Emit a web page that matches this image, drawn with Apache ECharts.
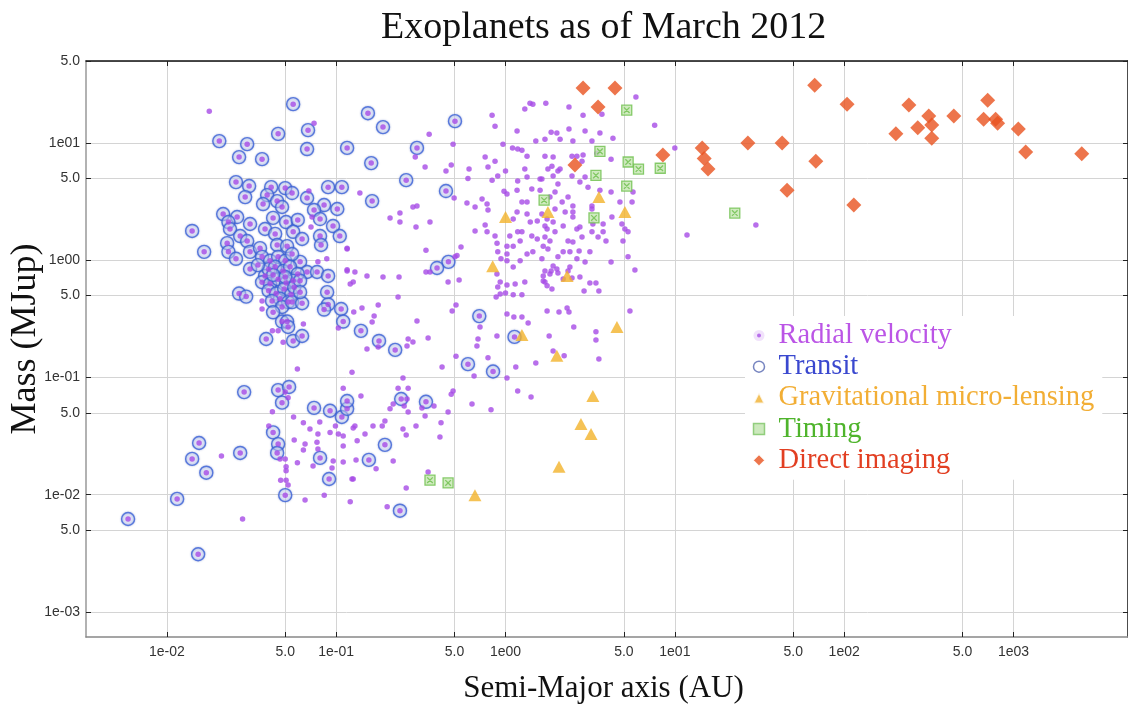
<!DOCTYPE html>
<html>
<head>
<meta charset="utf-8">
<script src="https://cdn.jsdelivr.net/npm/echarts@6.0.0/dist/echarts.min.js"></script>
<style>
html,body{margin:0;padding:0;background:#fff;}
#chart{width:1128px;height:704px;}
</style>
</head>
<body>
<div id="chart"></div>
<script>
// ---- tick values and labels ----
const xTickValues = [0.01, 0.05, 0.1, 0.5, 1, 5, 10, 50, 100, 500, 1000];
const xTickLabels = ['1e-02', '5.0', '1e-01', '5.0', '1e00', '5.0', '1e01', '5.0', '1e02', '5.0', '1e03'];
const yTickValues = [0.001, 0.005, 0.01, 0.05, 0.1, 0.5, 1, 5, 10, 50];
const yTickLabels = ['1e-03', '5.0', '1e-02', '5.0', '1e-01', '5.0', '1e00', '5.0', '1e01', '5.0'];

// ---- series data: [semi-major axis (AU), mass (MJup)] ----
const transit = [
[0.0557,21.5],[0.0454,12.0],[0.0682,12.9],[0.0204,10.4],[0.0298,9.8],[0.0673,8.9],[0.116,9.1],[0.0267,7.6],[0.0365,7.3],[0.0256,4.65],[0.0306,4.3],[0.050,4.13],[0.0413,4.21],[0.0549,3.75],[0.0896,4.21],[0.108,4.21],[0.0391,3.6],[0.029,3.46],[0.0448,3.2],[0.0673,3.4],[0.037,3.02],[0.0848,2.96],[0.074,2.69],[0.1015,2.74],[0.0479,2.85],[0.0215,2.48],[0.026,2.34],[0.0424,2.3],[0.0506,2.12],[0.0593,2.21],[0.0803,2.25],[0.0231,2.12],[0.0236,1.85],[0.031,2.04],[0.038,1.85],[0.0436,1.68],[0.0557,1.75],[0.0629,1.52],[0.0803,1.61],[0.0958,1.96],[0.105,1.61],[0.0141,1.78],[0.0271,1.61],[0.0298,1.46],[0.0227,1.40],[0.0231,1.18],[0.0256,1.03],[0.0166,1.18],[0.031,1.18],[0.0355,1.27],[0.0448,1.35],[0.0513,1.32],[0.0612,0.97],[0.0673,0.795],[0.0771,0.795],[0.0814,1.35],[0.0896,0.735],[0.038,0.735],[0.031,0.843],
[0.0365,1.07],[0.0407,0.99],[0.0454,1.07],[0.050,0.99],[0.0549,1.13],[0.0399,0.84],[0.0436,0.88],[0.0486,0.81],[0.0534,0.88],[0.0593,0.765],[0.0365,0.65],[0.0407,0.63],[0.0454,0.69],[0.0506,0.64],[0.0557,0.67],[0.0399,0.55],[0.0442,0.52],[0.0493,0.57],[0.0542,0.51],[0.0466,0.47],[0.052,0.44],[0.0418,0.45],[0.0479,0.40],[0.0565,0.59],[0.0345,0.91],[0.0612,0.67],[0.050,0.72],[0.0424,0.75],
[0.0267,0.52],[0.0294,0.49],[0.0424,0.36],[0.0549,0.44],[0.0629,0.43],[0.0612,0.535],[0.0884,0.535],[0.0896,0.42],[0.0848,0.38],[0.107,0.384],[0.110,0.30],[0.0479,0.30],[0.0513,0.30],[0.052,0.27],[0.0386,0.213],[0.0557,0.205],[0.0629,0.226],[0.0286,0.075],[0.0454,0.078],[0.0527,0.083],[0.0479,0.061],[0.074,0.055],[0.092,0.052],[0.108,0.046],[0.116,0.054],[0.116,0.063],[0.0424,0.034],[0.0454,0.027],[0.0448,0.0227],[0.0155,0.0276],[0.0271,0.0227],[0.0141,0.0202],[0.0171,0.0154],[0.0803,0.0206],
[0.0115,0.0092],[0.0059,0.0062],[0.0153,0.0031],[0.050,0.0099],[0.0908,0.0136],[0.238,0.0073],
[0.154,18.0],[0.189,13.7],[0.503,15.4],[0.161,6.75],[0.30,9.1],[0.259,4.83],[0.445,3.9],[0.163,3.2],[0.46,0.97],[0.394,0.86],
[0.14,0.25],[0.179,0.205],[0.223,0.172],[0.242,0.0655],[0.339,0.062],[0.194,0.0266],[0.156,0.0198],[0.70,0.334],[0.60,0.13],[0.844,0.1125],[1.13,0.222]
];

const radialVelocity = [
[0.0178,18.7],[0.074,14.8],[0.069,3.9],[0.071,1.92],[0.072,2.34],[0.078,0.97],[0.088,1.03],[0.116,1.25],[0.116,0.81],
[0.0365,0.45],[0.0365,0.384],[0.0454,0.25],[0.0486,0.20],[0.064,0.286],[0.042,0.25],[0.103,0.265],[0.059,0.118],[0.050,0.075],[0.052,0.067],[0.11,0.081],
[0.042,0.051],[0.056,0.046],[0.064,0.041],[0.070,0.0363],[0.080,0.0417],[0.078,0.033],[0.092,0.034],[0.099,0.0385],[0.103,0.033],[0.11,0.0317],[0.040,0.0385],[0.0565,0.0293],[0.0655,0.027],[0.077,0.028],[0.078,0.0245],[0.064,0.024],[0.096,0.0194],[0.11,0.019],[0.11,0.026],[0.0945,0.0169],[0.059,0.0187],[0.073,0.0176],[0.0506,0.0173],[0.050,0.0202],[0.0466,0.0202],[0.021,0.0214],
[0.028,0.0062],[0.047,0.0133],[0.0506,0.0133],[0.052,0.0121],[0.0506,0.016],[0.0655,0.009],[0.085,0.0099],[0.124,0.0136],[0.121,0.0087],[0.20,0.0079],[0.172,0.0166],
[0.354,11.9],[0.49,9.8],[0.293,7.6],[0.335,6.24],[0.445,5.77],[0.478,6.49],[0.138,3.75],[0.284,2.85],[0.30,2.91],[0.208,2.3],[0.238,2.53],[0.238,2.12],[0.296,1.92],[0.358,2.12],[0.497,3.4],[0.116,1.27],[0.339,1.22],[0.546,1.3],[0.517,1.1],[0.503,1.07],[0.116,0.83],[0.129,0.795],[0.152,0.735],[0.189,0.72],[0.235,0.72],[0.339,0.795],[0.358,0.795],[0.458,0.653],[0.532,0.68],[0.126,0.653],
[0.833,17.3],[0.867,13.9],[0.758,7.6],[0.867,7.0],[0.609,6.0],[0.60,5.0],[0.788,6.24],[1.0,5.77],[0.966,9.8],[1.1,9.07],[1.18,8.9],[1.25,8.7],[1.17,12.7],[1.3,19.5],[1.395,21.9],[1.45,21.5],[1.73,21.9],[1.86,12.4],[1.51,10.4],[1.71,10.8],[2.01,12.2],[1.91,7.6],[2.04,5.77],[1.34,7.74],[1.3,6.0],[1.6,4.93],[1.34,5.13],[1.18,4.74],[0.90,5.23],[0.833,4.83],
[0.592,3.08],[0.661,2.85],[0.778,3.02],[0.788,2.69],[0.727,3.33],[0.98,3.89],[1.02,3.67],[1.17,3.97],[1.43,4.05],[1.6,3.97],[1.83,3.46],[0.758,2.0],[0.778,1.75],[0.867,1.61],[0.891,1.4],[0.661,1.78],[1.17,2.58],[1.11,2.25],[1.25,3.14],[1.34,3.14],[1.34,2.48],[1.4,2.12],[1.54,2.16],[1.64,2.48],[1.76,2.25],[1.71,1.96],[1.96,1.75],[1.06,1.61],[1.18,1.75],[1.25,1.75],[1.43,1.61],[1.22,1.46],[1.54,1.52],[1.67,1.32],[1.78,1.25],[1.02,1.32],[1.11,1.32],[0.94,1.03],[1.02,1.13],[0.90,1.18],[1.34,1.13],[1.45,1.18],[1.22,0.99],[1.64,1.03],[1.86,0.81],[1.76,0.605],[1.14,0.628],[1.3,0.653],[0.89,0.765],[0.93,0.653],[1.02,0.99],[1.11,0.877],[1.96,3.82],[1.96,2.74],
[0.121,0.628],[0.232,0.487],[0.177,0.416],[0.142,0.392],[0.127,0.362],[0.1675,0.334],[0.163,0.298],[0.30,0.304],[0.266,0.213],[0.284,0.201],[0.262,0.186],[0.152,0.175],[0.177,0.182],[0.349,0.217],[0.124,0.111],[0.51,0.416],[0.484,0.37],[0.51,0.152],[0.422,0.123],[0.248,0.099],[0.232,0.081],[0.266,0.081],[0.14,0.0695],[0.262,0.0655],[0.252,0.0572],[0.217,0.0595],[0.208,0.054],[0.266,0.0507],[0.321,0.055],[0.335,0.047],[0.378,0.057],[0.458,0.0507],[0.49,0.0766],[0.478,0.072],[0.416,0.041],[0.41,0.031],[0.296,0.0385],[0.248,0.0363],[0.259,0.0323],[0.194,0.0425],[0.165,0.0385],[0.187,0.0385],[0.126,0.037],[0.129,0.0385],[0.148,0.033],[0.133,0.0288],[0.217,0.0194],[0.131,0.0198],[0.126,0.0136],[0.349,0.0156],[0.259,0.0114],
[0.90,0.593],[1.02,0.616],[0.93,0.516],[1.0,0.526],[1.11,0.507],[1.25,0.507],[0.88,0.487],[1.67,0.666],[1.88,0.569],[1.76,0.37],[2.07,0.362],[1.02,0.348],[1.12,0.328],[1.25,0.328],[1.36,0.292],[0.707,0.27],[0.688,0.213],[0.678,0.186],[0.788,0.147],[0.89,0.226],[0.652,0.103],[1.15,0.123],[1.02,0.099],[1.51,0.133],[1.81,0.226],[1.91,0.168],[1.18,0.0766],[1.415,0.068],[0.634,0.0595],[0.821,0.053],
[2.37,20.3],[2.87,17.3],[3.71,17.6],[5.89,24.7],[7.6,14.2],[2.95,12.7],[2.37,13.2],[2.1,10.8],[2.5,10.4],[3.24,10.4],[3.61,12.2],[4.31,11.0],[10.0,9.07],[1.71,7.74],[1.88,6.36],[2.47,7.74],[2.64,7.74],[2.87,7.9],[2.83,7.0],[2.1,6.0],[1.91,5.23],[1.78,6.0],[1.64,4.93],[2.47,5.23],[2.95,5.13],[4.2,7.3],[3.47,8.2],[2.75,4.65],[2.04,4.47],[2.34,3.46],[2.16,3.14],[2.5,2.91],[3.07,4.21],[3.61,3.97],[4.2,3.82],[5.66,3.82],[4.74,3.14],[5.59,3.14],[3.24,2.91],[3.24,2.74],[2.25,2.58],[2.5,2.58],[2.5,2.34],[1.91,2.12],[1.76,1.85],[2.19,1.96],[2.64,1.85],[2.75,1.92],[2.83,1.58],[3.77,2.04],[3.28,2.04],[4.25,2.34],[4.87,2.04],[5.07,1.85],[5.29,1.75],[3.24,1.75],[3.52,1.58],[3.77,1.75],[4.94,1.46],[3.92,1.46],[2.34,1.46],[2.5,1.43],[1.71,1.58],[1.83,1.46],[2.19,1.18],[2.4,1.18],[2.72,1.2],[3.15,1.18],[2.04,1.07],[2.64,1.03],[2.95,0.967],[5.29,1.07],[4.2,0.967],[1.91,0.895],[2.01,0.843],[2.4,0.877],[2.34,0.81],[1.71,0.81],[1.67,0.735],[5.81,0.827],[11.8,1.64],[2.75,0.72],
[1.83,0.765],[2.04,0.78],[1.71,0.653],[2.19,0.693],[2.47,0.707],[3.15,0.64],[3.42,0.64],[2.91,0.547],[3.56,0.547],[2.31,0.392],[2.37,0.362],[5.43,0.37],[2.53,0.27],[3.42,0.245],[3.42,0.209],[2.22,0.153],[3.56,0.144],
[30.1,2.0]
];

const microLensing = [
[1.0,2.34],[1.78,2.58],[0.84,0.89],[3.56,3.46],[5.07,2.58],[2.31,0.735],[1.25,0.23],[2.01,0.153],[4.55,0.27],[3.28,0.0695],[2.79,0.040],[3.2,0.033],[2.07,0.0173],[0.66,0.0099]
];

const timing = [
[5.2,19.1],[3.61,8.5],[5.3,6.9],[6.1,6.0],[8.2,6.1],[3.42,5.3],[5.2,4.3],[1.69,3.26],[3.33,2.3],[22.6,2.53],[0.358,0.0133],[0.458,0.0126]
];

const directImaging = [
[2.87,29.5],[4.43,29.5],[3.52,20.3],[2.57,6.5],[8.5,7.9],[14.5,9.1],[14.9,7.4],[15.7,6.0],[67,31.2],[104,21.5],[27,10],[43,10],[68,7.0],[46,3.97],[114,2.96],[241,21.1],[202,12.0],[272,13.5],[316,17.0],[329,14.3],[329,11.0],[444,17.0],[704,23.2],[666,16.0],[784,16.0],[806,14.8],[1068,13.2],[1180,8.4],[2530,8.1]
];

const seriesNames = ['Radial velocity', 'Transit', 'Gravitational micro-lensing', 'Timing', 'Direct imaging'];

function tickFormatter(values, labels) {
  return function (v) {
    for (let i = 0; i < values.length; i++) {
      if (Math.abs(Math.log10(v) - Math.log10(values[i])) < 1e-3) return labels[i];
    }
    return '';
  };
}

const chart = echarts.init(document.getElementById('chart'), null, {renderer: 'canvas'});

const labelFont = {fontFamily: 'Liberation Sans', fontSize: 14, color: '#333'};
const gridLine = {show: true, lineStyle: {color: '#d4d4d4', width: 1}};
const tickStyle = {show: true, inside: true, length: 5, lineStyle: {color: '#222', width: 1}};

const xBase = {type: 'log', logBase: 10, min: 0.00333, max: 4745};
const yBase = {type: 'log', logBase: 10, min: 0.00061, max: 50.2};

const timingSymbol = 'path://M0,0L10,0L10,10L0,10Z M2.2,2.2L7.8,7.8 M7.8,2.2L2.2,7.8';

const option = {
  backgroundColor: '#fff',
  animation: false,
  title: {
    text: 'Exoplanets as of March 2012',
    left: 376, top: 4,
    textStyle: {fontFamily: 'Liberation Serif', fontSize: 38, fontWeight: 'normal', color: '#111'}
  },
  grid: {left: 86, right: 0, top: 61, bottom: 67, containLabel: false, outerBoundsMode: 'none'},
  xAxis: [
    Object.assign({}, xBase, {
      position: 'bottom',
      name: 'Semi-Major axis (AU)', nameLocation: 'middle', nameGap: 36, nameMoveOverlap: false,
      nameTextStyle: {fontFamily: 'Liberation Serif', fontSize: 31, color: '#111', padding: [0, 7, 0, 0]},
      axisLine: {show: true, lineStyle: {color: '#888', width: 1.5}},
      axisTick: Object.assign({customValues: xTickValues}, tickStyle),
      axisLabel: Object.assign({customValues: xTickValues, margin: 8, formatter: tickFormatter(xTickValues, xTickLabels)}, labelFont),
      splitLine: gridLine
    }),
    Object.assign({}, xBase, {
      position: 'top',
      axisLine: {show: true, lineStyle: {color: '#111', width: 1.5}},
      axisTick: Object.assign({customValues: xTickValues}, tickStyle),
      axisLabel: {show: false},
      splitLine: {show: false}
    })
  ],
  yAxis: [
    Object.assign({}, yBase, {
      position: 'left',
      name: 'Mass (MJup)', nameLocation: 'middle', nameGap: 42, nameMoveOverlap: false,
      nameTextStyle: {fontFamily: 'Liberation Serif', fontSize: 36, color: '#111', padding: [0, 0, 0, 20]},
      axisLine: {show: true, lineStyle: {color: '#999', width: 1.5}},
      axisTick: Object.assign({customValues: yTickValues}, tickStyle),
      axisLabel: Object.assign({customValues: yTickValues, margin: 6, formatter: tickFormatter(yTickValues, yTickLabels)}, labelFont),
      splitLine: gridLine
    }),
    Object.assign({}, yBase, {
      position: 'right',
      axisLine: {show: true, lineStyle: {color: '#111', width: 1.5}},
      axisTick: Object.assign({customValues: yTickValues}, tickStyle),
      axisLabel: {show: false},
      splitLine: {show: false}
    })
  ],
  legend: {
    orient: 'vertical',
    left: 745, top: 316,
    itemWidth: 11, itemHeight: 11, itemGap: 2.2,
    padding: [5, 8, 5, 5],
    backgroundColor: '#fff',
    selectedMode: false,
    textStyle: {fontFamily: 'Liberation Serif', fontSize: 28.5, padding: [0, 0, 0, 9]},
    data: [
      {name: seriesNames[0], icon: 'circle', itemStyle: {color: '#a64be6', borderColor: '#fff', borderWidth: 7}, textStyle: {color: '#bb55e6'}},
      {name: seriesNames[1], icon: 'circle', itemStyle: {color: '#fff', borderColor: '#5566b0', borderWidth: 1.5}, textStyle: {color: '#3a48cf'}},
      {name: seriesNames[2], icon: 'triangle', itemStyle: {color: '#f0b030', borderColor: '#fff', borderWidth: 2}, textStyle: {color: '#f2ae35'}},
      {name: seriesNames[3], icon: 'rect', itemStyle: {color: '#bfe3ad', borderColor: '#7cc464', borderWidth: 1.5}, textStyle: {color: '#4fb42c'}},
      {name: seriesNames[4], icon: 'diamond', itemStyle: {color: '#e8531f', borderColor: '#fff', borderWidth: 1}, textStyle: {color: '#e23f22'}}
    ]
  },
  series: [
    {
      name: seriesNames[1], type: 'scatter', data: transit,
      symbol: 'circle', symbolSize: 13,
      itemStyle: {color: 'rgba(235,240,255,0.55)', borderColor: '#3b62d8', borderWidth: 1.4,
        shadowColor: 'rgba(40,70,170,0.45)', shadowBlur: 2},
      emphasis: {disabled: true}, z: 2
    },
    {
      name: seriesNames[0], type: 'scatter', data: radialVelocity,
      symbol: 'circle', symbolSize: 5.5,
      itemStyle: {color: '#a64be6'},
      emphasis: {disabled: true}, z: 3
    },
    {
      name: seriesNames[0], type: 'scatter', data: transit,
      symbol: 'circle', symbolSize: 5.5,
      itemStyle: {color: '#a64be6'},
      emphasis: {disabled: true}, z: 3
    },
    {
      name: seriesNames[2], type: 'scatter', data: microLensing,
      symbol: 'triangle', symbolSize: [13, 12],
      itemStyle: {color: '#f2b32a'},
      emphasis: {disabled: true}, z: 4
    },
    {
      name: seriesNames[3], type: 'scatter', data: timing,
      symbol: timingSymbol, symbolSize: 10,
      itemStyle: {color: '#c4e6b0', borderColor: '#6dbf4b', borderWidth: 1.3},
      emphasis: {disabled: true}, z: 4
    },
    {
      name: seriesNames[4], type: 'scatter', data: directImaging,
      symbol: 'diamond', symbolSize: 15,
      itemStyle: {color: '#e9521f'},
      emphasis: {disabled: true}, z: 5
    }
  ]
};

chart.setOption(option);
</script>
</body>
</html>
